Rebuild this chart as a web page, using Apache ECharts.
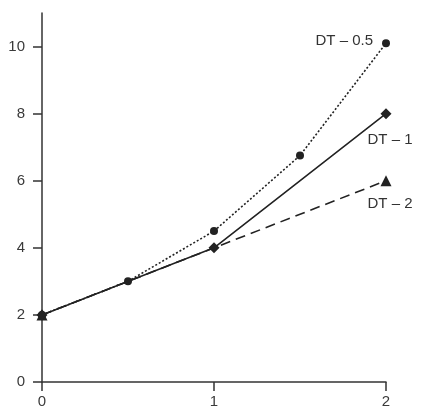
<!DOCTYPE html>
<html>
<head>
<meta charset="utf-8">
<script src="https://cdn.jsdelivr.net/npm/echarts@6/dist/echarts.min.js"></script>
<style>
html,body{margin:0;padding:0;background:#fff;}
#chart{width:421px;height:409px;}
</style>
</head>
<body>
<div id="chart"></div>
<script>
// Data
var seriesNames = ['DT – 0.5', 'DT – 1', 'DT – 2'];
var xHalf = [0, 0.5, 1, 1.5, 2];
var yHalf = [2, 3, 4.5, 6.75, 10.1];
var xOne = [0, 1, 2];
var yOne = [2, 4, 8];
var xTwo = [0, 2];
var yTwo = [2, 6];
var xTicks = [0, 1, 2];
var yTicks = [0, 2, 4, 6, 8, 10];

function pairs(xs, ys) {
  return xs.map(function (x, i) { return [x, ys[i]]; });
}

var font = 'Liberation Sans, Arial, Helvetica, sans-serif';
var ink = '#222';

function lastLabel(data, labelCfg) {
  var d = data.map(function (p) { return { value: p }; });
  d[d.length - 1].label = labelCfg;
  return d;
}

var chart = echarts.init(document.getElementById('chart'), null, { renderer: 'canvas' });
chart.setOption({
  animation: false,
  backgroundColor: '#fff',
  grid: { left: 42, right: 35, top: 13, bottom: 26, containLabel: false },
  xAxis: {
    type: 'value', min: 0, max: 2, interval: 1,
    splitLine: { show: false },
    axisLine: { lineStyle: { color: '#333', width: 1.5 } },
    axisTick: { length: 9, lineStyle: { color: '#333', width: 1.5 }, customValues: xTicks },
    axisLabel: { color: '#3a3a3a', fontSize: 15, fontFamily: font, margin: 12, customValues: xTicks }
  },
  yAxis: {
    type: 'value', min: 0, max: 11, interval: 2,
    splitLine: { show: false },
    axisLine: { show: true, onZero: false, lineStyle: { color: '#333', width: 1.5 } },
    axisTick: { show: true, length: 9, lineStyle: { color: '#333', width: 1.5 }, customValues: yTicks },
    axisLabel: { color: '#3a3a3a', fontSize: 15, fontFamily: font, margin: 17, customValues: yTicks }
  },
  series: [
    {
      name: seriesNames[0], type: 'line',
      data: lastLabel(pairs(xHalf, yHalf), {
        show: true, formatter: seriesNames[0], position: 'left', distance: 9,
        color: '#333', fontSize: 15, fontFamily: font, offset: [0, -2]
      }),
      symbol: 'circle', symbolSize: 8,
      itemStyle: { color: ink },
      lineStyle: { color: ink, width: 1.6, type: [2, 2] },
      z: 3
    },
    {
      name: seriesNames[1], type: 'line',
      data: lastLabel(pairs(xOne, yOne), {
        show: true, formatter: seriesNames[1], position: [-13, 32],
        align: 'left', verticalAlign: 'middle',
        color: '#333', fontSize: 15, fontFamily: font
      }),
      symbol: 'diamond', symbolSize: 11,
      itemStyle: { color: ink },
      lineStyle: { color: ink, width: 1.6, type: 'solid' },
      z: 4
    },
    {
      name: seriesNames[2], type: 'line',
      data: lastLabel(pairs(xTwo, yTwo), {
        show: true, formatter: seriesNames[2], position: [-13, 29],
        align: 'left', verticalAlign: 'middle',
        color: '#333', fontSize: 15, fontFamily: font
      }),
      symbol: 'triangle', symbolSize: 11,
      itemStyle: { color: ink },
      lineStyle: { color: ink, width: 1.6, type: [10, 6] },
      z: 2
    }
  ]
});
</script>
</body>
</html>
